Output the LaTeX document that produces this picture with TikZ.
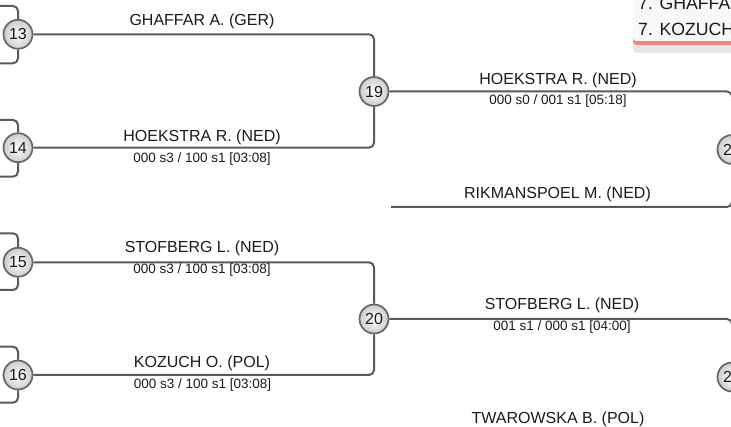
\documentclass[tikz,border=0pt]{standalone}
\usepackage{fontspec}
\setmainfont{Liberation Sans}
\definecolor{linec}{HTML}{5A5A5A}
\definecolor{circc}{HTML}{666666}
\definecolor{legbg}{HTML}{F8F8F8}
\definecolor{legred}{HTML}{F28282}
\definecolor{legshadow}{HTML}{E6E6E6}
\definecolor{txt}{HTML}{1A1A1A}
\begin{document}
\begin{tikzpicture}[x=1pt,y=-1pt,
  conn/.style={draw=linec, line width=2pt, rounded corners=5pt},
  seed/.style={circle, draw=circc, line width=1.7pt, inner color=white, outer color=gray!40,
    minimum size=29pt, inner sep=0pt, text=txt, font=\fontsize{16}{16}\selectfont},
  pname/.style={anchor=base, inner sep=0pt, text=txt, font=\fontsize{16}{16}\selectfont},
  pscore/.style={anchor=base, inner sep=0pt, text=txt, font=\fontsize{13.5}{13.5}\selectfont},
  legtext/.style={anchor=base west, inner sep=0pt, text=txt, font=\fontsize{17.7}{17.7}\selectfont}]
\useasboundingbox (0,0) rectangle (731,427);
\clip (0,0) rectangle (731,427);

% match circles
\node[seed] (c13) at (18,34.3) {13};
\node[seed] (c14) at (18,147.7) {14};
\node[seed] (c15) at (18,262.3) {15};
\node[seed] (c16) at (18,375) {16};
\node[seed] (c19) at (374,91.5) {19};
\node[seed] (c20) at (374,319) {20};
\node[seed] (c21) at (732,149.5) {21};
\node[seed] (c22) at (732,377) {22};

% free ends
\coordinate (l13a) at (-10,6);
\coordinate (l13b) at (-10,63.3);
\coordinate (l14a) at (-10,120);
\coordinate (l14b) at (-10,176.7);
\coordinate (l15a) at (-10,233.3);
\coordinate (l15b) at (-10,290);
\coordinate (l16a) at (-10,346.7);
\coordinate (l16b) at (-10,402.7);
\coordinate (rik) at (391,207);

% left brackets
\draw[conn] (l13a) -| (c13.north);
\draw[conn] (l13b) -| (c13.south);
\draw[conn] (l14a) -| (c14.north);
\draw[conn] (l14b) -| (c14.south);
\draw[conn] (l15a) -| (c15.north);
\draw[conn] (l15b) -| (c15.south);
\draw[conn] (l16a) -| (c16.north);
\draw[conn] (l16b) -| (c16.south);

% first round to semis
\draw[conn] (c13.east) -| (c19.north);
\draw[conn] (c14.east) -| (c19.south);
\draw[conn] (c15.east) -| (c20.north);
\draw[conn] (c16.east) -| (c20.south);

% to right column
\draw[conn] (c19.east) -| (c21.north);
\draw[conn] (rik) -| (c21.south);
\draw[conn] (c20.east) -| (c22.north);

% names and scores, left column
\node[pname] (n1) at (202,25.7) {GHAFFAR A. (GER)};
\node[pname] (n2) at (202,141.7) {HOEKSTRA R. (NED)};
\node[pscore] (s2) at (202,162.7) {000 s3 / 100 s1 [03:08]};
\node[pname] (n3) at (202,252.7) {STOFBERG L. (NED)};
\node[pscore] (s3) at (202,274) {000 s3 / 100 s1 [03:08]};
\node[pname] (n4) at (202,367.7) {KOZUCH O. (POL)};
\node[pscore] (s4) at (202.5,388.3) {000 s3 / 100 s1 [03:08]};

% right column
\node[pname] (n5) at (558,85) {HOEKSTRA R. (NED)};
\node[pscore] (s5) at (558,105) {000 s0 / 001 s1 [05:18]};
\node[pname] (n6) at (557.5,198.3) {RIKMANSPOEL M. (NED)};
\node[pname] (n7) at (562,310) {STOFBERG L. (NED)};
\node[pscore] (s7) at (562,331) {001 s1 / 000 s1 [04:00]};
\node[pname] (n8) at (558,423.3) {TWAROWSKA B. (POL)};

% legend box (top right)
\fill[legshadow, rounded corners=4pt] (633,-10) rectangle (745,53);
\fill[legred, rounded corners=4pt] (633,-10) rectangle (745,45);
\fill[legbg, rounded corners=3pt] (633,-10) rectangle (745,41);
\node[legtext] (g1) at (638,10) {7. GHAFFA};
\node[legtext] (g2) at (638,36) {7. KOZUCH};
\end{tikzpicture}
\end{document}
